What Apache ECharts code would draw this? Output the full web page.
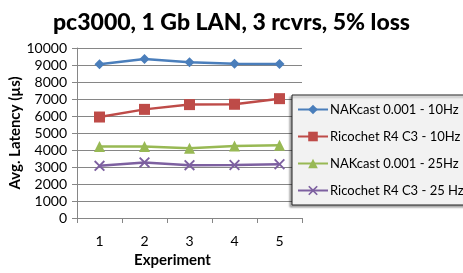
<!DOCTYPE html>
<html><head><meta charset="utf-8">
<script src="https://cdn.jsdelivr.net/npm/echarts@6/dist/echarts.min.js"></script>
<style>html,body{margin:0;padding:0;background:#fff}#c{width:463px;height:273px}</style>
</head><body><div id="c"></div>
<script>
const categories = ['1','2','3','4','5'];
const nak10 = [9040, 9350, 9160, 9070, 9060];
const rico10 = [5940, 6390, 6670, 6690, 7020];
const nak25 = [4200, 4210, 4100, 4240, 4280];
const rico25 = [3070, 3270, 3110, 3120, 3160];
const seriesNames = ['NAKcast 0.001 - 10Hz','Ricochet R4 C3 - 10Hz','NAKcast 0.001 - 25Hz','Ricochet R4 C3 - 25 Hz'];
const yTicks = {min:0, max:10000, interval:1000};

const F = 'Lato, "Open Sans", sans-serif';
const xPath = 'path://M0,1.2L1.2,0L5,3.8L8.8,0L10,1.2L6.2,5L10,8.8L8.8,10L5,6.2L1.2,10L0,8.8L3.8,5Z';
const colors = ['#4a7ebb','#be4b48','#98b954','#7d60a0'];
const symbols = ['diamond','rect','triangle',xPath];
const sizes = [10,11,11,11];
const data = [nak10, rico10, nak25, rico25];

const chart = echarts.init(document.getElementById('c'));
chart.setOption({
  animation:false,
  textStyle:{fontFamily:F},
  title:{text:'pc3000, 1 Gb LAN, 3 rcvrs, 5% loss', left:'center', top:6,
    textStyle:{fontFamily:F, fontWeight:900, fontSize:23, color:'#000'}},
  grid:{left:77, right:161, top:48, bottom:55},
  legend:{orient:'vertical', left:292, top:95, padding:[8,20,8,5],
    backgroundColor:'#f2f2f2', borderColor:'#222', borderWidth:1,
    shadowColor:'rgba(0,0,0,0.35)', shadowOffsetX:-2, shadowOffsetY:2, shadowBlur:2,
    itemWidth:30, itemHeight:12, itemGap:14,
    textStyle:{fontFamily:F, fontSize:13, color:'#000', padding:[0,0,0,-3]},
    data:seriesNames},
  xAxis:{type:'category', data:categories, boundaryGap:true,
    name:'Experiment', nameLocation:'middle', nameGap:33,
    nameTextStyle:{fontFamily:F, fontWeight:'bold', fontSize:15, color:'#000', padding:[0,34,0,0]},
    axisLine:{lineStyle:{color:'#868686'}},
    axisTick:{show:true, interval:0, length:5, lineStyle:{color:'#868686'}},
    axisLabel:{fontFamily:F, fontSize:14, color:'#000', margin:16}},
  yAxis:{type:'value', min:yTicks.min, max:yTicks.max, interval:yTicks.interval,
    name:'Avg. Latency (µs)', nameLocation:'middle', nameGap:48, nameRotate:90,
    nameTextStyle:{fontFamily:F, fontWeight:'bold', fontSize:15, color:'#000'},
    axisLine:{show:true, lineStyle:{color:'#868686'}},
    axisTick:{show:true, length:5, lineStyle:{color:'#868686'}},
    splitLine:{lineStyle:{color:'#868686'}},
    axisLabel:{fontFamily:F, fontSize:14, color:'#000', margin:10, formatter:v=>String(v)}},
  series: data.map((d,i)=>({
    name:seriesNames[i], type:'line', data:d,
    symbol:symbols[i], symbolSize:sizes[i], showAllSymbol:true,
    lineStyle:{color:colors[i], width:2.5},
    itemStyle:{color:colors[i]}
  }))
});
</script></body></html>
